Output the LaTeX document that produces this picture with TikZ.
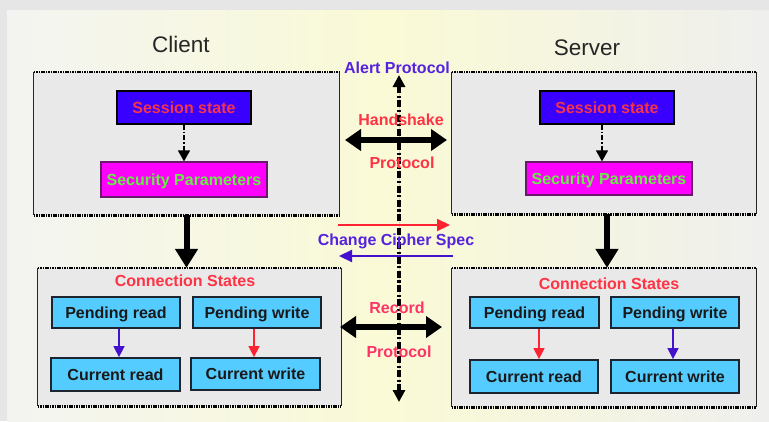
\documentclass[tikz,border=0pt]{standalone}
\usepackage{fontspec}
\setmainfont{Liberation Sans}
\usetikzlibrary{arrows.meta,calc}

\definecolor{outerbg}{HTML}{E6E6E6}
\definecolor{panelL}{HTML}{F3F4F1}
\definecolor{panelM}{HTML}{FAFAD6}
\definecolor{panelR}{HTML}{EFEFEE}
\definecolor{boxgray}{HTML}{E9E9E9}
\definecolor{sessblue}{HTML}{3A00FF}
\definecolor{sessred}{HTML}{F5334A}
\definecolor{secmag}{HTML}{FF00FF}
\definecolor{secgreen}{HTML}{66EE44}
\definecolor{secedge}{HTML}{6A1A6A}
\definecolor{stcyan}{HTML}{55CCFF}
\definecolor{stedge}{HTML}{1C2430}
\definecolor{labred}{HTML}{FF3344}
\definecolor{labpink}{HTML}{FF3366}
\definecolor{labblue}{HTML}{5522DD}
\definecolor{arrred}{HTML}{FF2233}
\definecolor{arrblue}{HTML}{4411CC}

\newcommand{\boxfont}{\fontsize{16}{18}\selectfont\bfseries}
\newcommand{\headfont}{\fontsize{22.5}{26}\selectfont}

\begin{document}
\begin{tikzpicture}[x=1pt,y=-1pt,
  bigbox/.style={fill=boxgray,draw=none,inner sep=0pt},
  sideline/.style={draw=black!85,line width=1.2pt},
  dotline/.style={draw=black,line width=2.6pt,dash pattern=on 1.6pt off 0.8pt},
  inbox/.style={inner sep=0pt,font=\boxfont,text height=11.5pt,text depth=0pt},
  sessbox/.style={inbox,draw=black,line width=1.2pt,fill=sessblue,text=sessred,
    minimum width=134pt,minimum height=33pt},
  secbox/.style={inbox,draw=secedge,line width=1.2pt,fill=secmag,text=secgreen,
    minimum width=166pt},
  stbox/.style={inbox,draw=stedge,line width=1.8pt,fill=stcyan,text=black!90,
    minimum width=128pt},
  lab/.style={inner sep=0pt,font=\boxfont,anchor=base},
  head/.style={inner sep=0pt,font=\headfont,anchor=base,text=black!85},
  dashlink/.style={draw=black,line width=1.4pt,dash pattern=on 5pt off 2pt on 1.5pt off 2pt,
    -{Triangle[length=11pt,width=12pt]}},
  bigarrow/.style={draw=black,fill=black,line width=6pt,
    -{Triangle[length=19pt,width=22pt]}},
  bidarrow/.style={draw=black,fill=black,line width=6.5pt,
    {Triangle[length=16pt,width=21pt]}-{Triangle[length=16pt,width=21pt]}},
  thinarrow/.style={line width=1.5pt,-{Triangle[length=11pt,width=11pt]}},
  cipharrow/.style={line width=2.2pt,-{Triangle[length=13pt,width=12pt]}},
  axisline/.style={draw=black,fill=black,line width=3.2pt,
    dash pattern=on 7pt off 2.5pt on 2.2pt off 2.5pt,
    {Triangle[length=12pt,width=12pt]}-{Triangle[length=12pt,width=12pt]}}
]
\useasboundingbox (0,0) rectangle (769,421);

% backdrop
\fill[outerbg] (0,0) rectangle (769,421);
\shade[left color=panelL,right color=panelR,middle color=panelM] (7,10) rectangle (769,421);

% headings
\node[head] (client) at (181,52) {Client};
\node[head] (server) at (587,55) {Server};

% the four grey frames
\node[bigbox,minimum width=305pt,minimum height=143pt] (ctop) at (186.5,143.5) {};
\node[bigbox,minimum width=304pt,minimum height=142pt] (stop) at (604,143) {};
\node[bigbox,minimum width=303pt,minimum height=138pt] (cbot) at (189.5,337) {};
\node[bigbox,minimum width=304pt,minimum height=139pt] (sbot) at (604,337.5) {};
\foreach \b in {ctop,stop,cbot,sbot}{
  \draw[sideline] (\b.north west) -- (\b.south west);
  \draw[sideline] (\b.north east) -- (\b.south east);
  \draw[dotline] (\b.north west) -- (\b.north east);
  \draw[dotline] (\b.south west) -- (\b.south east);
}

% session state and security parameters
\node[sessbox] (csess) at (184,107.5) {Session state\hspace{10pt}};
\node[secbox,minimum height=35pt] (csec) at (184,179.5) {Security Parameters};
\node[sessbox] (ssess) at (607,107.5) {Session state\hspace{10pt}};
\node[secbox,minimum height=33pt] (ssec) at (609,178.5) {Security Parameters};
\coordinate (sdl) at ($(ssess.south)+(-5,0)$);
\draw[dashlink] (csess.south) -- (csess.south |- csec.north);
\draw[dashlink] (sdl) -- (sdl |- ssec.north);

% frames down to connection states
\coordinate (cdown) at (ctop.south);
\coordinate (sdown) at ($(stop.south)+(3,0)$);
\draw[bigarrow] (cdown) -- (cdown |- cbot.north);
\draw[bigarrow] (sdown) -- (sdown |- sbot.north);

% connection states, client side
\node[lab,text=labred] (cconn) at (185,286) {Connection States};
\node[stbox,minimum height=31pt] (cpr) at (116,312.5) {Pending read};
\node[stbox,minimum height=31pt] (cpw) at (257,312.5) {Pending write};
\node[stbox,minimum width=129pt,minimum height=33pt] (ccr) at (115.5,374.5) {Current read};
\node[stbox,minimum width=129pt,minimum height=32pt] (ccw) at (255.5,374) {Current write};
\coordinate (cra) at ($(cpr.south)+(3,0)$);
\coordinate (cwa) at ($(cpw.south)+(-3,0)$);
\draw[thinarrow,arrblue] (cra) -- (cra |- ccr.north);
\draw[thinarrow,arrred] (cwa) -- (cwa |- ccw.north);

% connection states, server side
\node[lab,text=labred] (sconn) at (609,289) {Connection States};
\node[stbox,minimum width=129pt,minimum height=31pt] (spr) at (534.5,312.5) {Pending read};
\node[stbox,minimum height=31pt] (spw) at (675,312.5) {Pending write};
\node[stbox,minimum height=33pt] (scr) at (534,376.5) {Current read};
\node[stbox,minimum height=33pt] (scw) at (675,376.5) {Current write};
\coordinate (sra) at ($(spr.south)+(4.5,0)$);
\coordinate (swa) at ($(spw.south)+(-2,0)$);
\draw[thinarrow,arrred] (sra) -- (sra |- scr.north);
\draw[thinarrow,arrblue] (swa) -- (swa |- scw.north);

% protocol axis in the middle
\coordinate (vtop) at (399,75);
\coordinate (vbot) at (399,402);
\draw[axisline] (vtop) -- (vbot);
\node[lab,text=labblue] (alert) at (397,73) {Alert Protocol};

% handshake protocol
\coordinate (hsl) at (345,140);
\coordinate (hsr) at (447,140);
\draw[bidarrow] (hsl) -- (hsr);
\node[lab,text=labred] (hs1) at (401,125) {Handshake};
\node[lab,text=labred] (hs2) at (402,168) {Protocol};

% change cipher spec
\coordinate (ccs1) at (338,225);
\coordinate (ccs2) at (450,225);
\coordinate (ccs3) at (453,256);
\coordinate (ccs4) at (339,256);
\draw[cipharrow,arrred] (ccs1) -- (ccs2);
\draw[cipharrow,arrblue] (ccs3) -- (ccs4);
\node[lab,text=labblue] (ccs) at (396,245) {Change Cipher Spec};

% record protocol
\coordinate (rcl) at (340,327);
\coordinate (rcr) at (442,327);
\draw[bidarrow] (rcl) -- (rcr);
\node[lab,text=labpink] (rc1) at (397,313) {Record};
\node[lab,text=labpink] (rc2) at (399,357) {Protocol};
\end{tikzpicture}
\end{document}
